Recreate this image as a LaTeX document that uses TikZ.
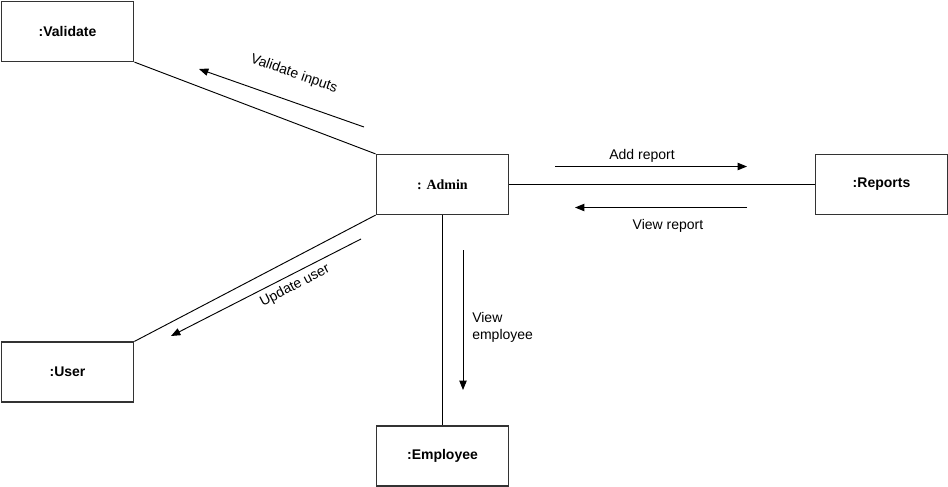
\documentclass[tikz,border=0pt]{standalone}
\usepackage{fontspec}
\setmainfont{Liberation Sans}
\newfontfamily\admfont{Liberation Serif}
\usepackage{xcolor}
\usetikzlibrary{positioning, arrows.meta}
\definecolor{ink}{HTML}{000000}
\definecolor{rim}{HTML}{333333}

\begin{document}
\begin{tikzpicture}[x=0.75pt, y=-0.75pt,
      obj/.style={draw=rim, line width=0.9pt, fill=white, inner sep=0pt,
                  minimum width=99.5pt, minimum height=45pt,
                  font=\fontsize{10.5}{12.5}\selectfont\bfseries},
      link/.style={ink, line width=0.7pt},
      msg/.style={-{Triangle[length=7pt, width=5.5pt]}, ink, line width=0.7pt},
      lbl/.style={inner sep=0pt, font=\fontsize{10.5}{12.5}\selectfont}]
    \useasboundingbox (0,0) rectangle (948,486);
    % objects
    \node[obj] (val) at (67.5,31.5)  {:Validate};
    \node[obj] (adm) at (442.5,184.5) {\admfont : Admin};
    \node[obj] (rep) at (881.5,184.5) {:Reports};
    \node[obj] (usr) at (67.5,372)   {:User};
    \node[obj] (emp) at (442.5,456)  {:Employee};
    % links
    \draw[link] (val.south east) -- (adm.north west);
    \draw[link] (adm.south west) -- (usr.north east);
    \draw[link] (adm.east) -- (rep.west);
    \draw[link] (adm.south) -- (emp.north);
    % message ends
    \coordinate (vi1) at (364,127);
    \coordinate (vi2) at (199,69);
    \coordinate (uu1) at (361,239);
    \coordinate (uu2) at (171,336);
    \coordinate (ar1) at (555,166.5);
    \coordinate (ar2) at (747,166.5);
    \coordinate (vr1) at (747,207.5);
    \coordinate (vr2) at (575,207.5);
    \coordinate (ve1) at (463,250);
    \coordinate (ve2) at (463,390);
    % messages
    \draw[msg] (vi1) -- (vi2);
    \draw[msg] (uu1) -- (uu2);
    \draw[msg] (ar1) -- (ar2);
    \draw[msg] (vr1) -- (vr2);
    \draw[msg] (ve1) -- (ve2);
    \node[lbl, rotate=-19.4] (vilbl) at (294,74) {Validate inputs};
    \node[lbl, rotate=27.5] (uulbl) at (295,286) {Update user};
    \node[lbl, anchor=base] (arlbl) at (642,159) {Add report};
    \node[lbl, anchor=base] (vrlbl) at (668,229) {View report};
    \node[lbl, align=left, anchor=north west] (velbl) at (472,312) {View\\employee};
  \end{tikzpicture}
\end{document}
